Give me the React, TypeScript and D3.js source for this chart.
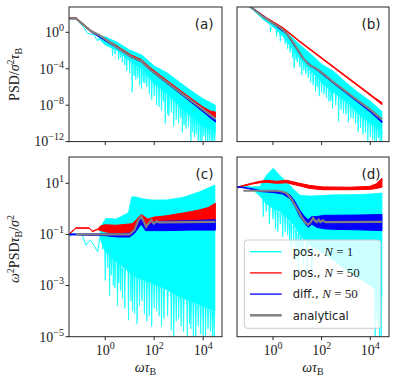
import React from 'react';
import * as d3 from 'd3';

// all values are log10 exponents: [log10(omega*tauB), log10(value)]
// bands are [log10 x, upper, lower], spikes are [log10 x, top, bottom]
type Pt = [number, number];
type Band = [number, number, number];

const X_EXP_RANGE = [-1.48, 4.77];
const X_TICKS = [0, 2, 4];
const TOP_Y_EXP = [-12, 2.78];
const TOP_Y_TICKS = [0, -4, -8, -12];
const BOT_Y_EXP = [-5, 2.03];
const BOT_Y_TICKS = [1, -1, -3, -5];

// ---- panel (a): PSD of positions
const A_GREY: Pt[] = [[-1.45, 1.54], [-1.2, 1.54], [-0.59, 0.14], [-0.25, -0.3], [0.44, -1.58], [1.06, -2.68], [1.26, -2.93], [1.47, -3.15], [1.6, -3.52], [1.81, -4.03], [2.49, -5.43], [3.31, -7.08], [4.0, -8.5], [4.5, -9.5]];
const A_RED: Band[] = [[-1.45, 1.62, 1.56], [-1.2, 1.62, 1.56], [-0.59, 0.24, 0.16], [0.44, -1.42, -1.52], [1.06, -2.5, -2.6], [1.47, -2.98, -3.08], [1.6, -3.3, -3.42], [1.81, -3.82, -3.94], [2.49, -5.22, -5.34], [3.31, -6.86, -7.0], [4.0, -8.2, -8.4], [4.3, -8.65, -9.0], [4.5, -8.75, -9.35]];
const A_BLUE: Band[] = [[-1.45, 1.53, 1.48], [-1.2, 1.53, 1.48], [-0.59, 0.12, 0.06], [0.44, -1.6, -1.66], [1.06, -2.7, -2.76], [1.47, -3.17, -3.25], [1.81, -4.05, -4.12], [2.49, -5.47, -5.56], [3.31, -7.14, -7.26], [4.0, -8.6, -8.75], [4.5, -9.6, -9.85]];
const A_CYAN_LINE: Pt[] = [[-1.45, 1.5], [-1.2, 1.5], [-0.86, 0.5], [-0.72, -0.11], [-0.45, -0.3], [-0.31, -0.96], [-0.25, -0.66], [-0.15, -0.62]];
const A_CYAN: Band[] = [[-0.25, -0.45, -0.7], [0.0, -0.48, -1.4], [0.5, -1.1, -2.0], [1.0, -1.95, -3.1], [1.5, -2.5, -4.0], [2.0, -3.7, -5.6], [2.5, -4.4, -6.7], [3.0, -5.4, -8.0], [3.5, -6.4, -9.2], [4.0, -7.3, -10.3], [4.5, -8.0, -11.0]];
const A_SPIKES: Band[] = [[0.3, -1.3, -2.6], [0.4, -1.5, -2.4], [0.55, -1.8, -3.0], [0.62, -1.9, -2.8], [0.7, -2.0, -3.3], [0.8, -2.3, -3.6], [0.88, -2.6, -4.2], [1.0, -2.9, -4.5], [1.1, -3.1, -6.6], [1.18, -3.3, -4.8], [1.25, -3.5, -5.2], [1.33, -3.6, -5.0], [1.4, -3.8, -5.8], [1.48, -4.0, -6.2], [1.55, -4.2, -5.5], [1.62, -4.4, -5.6], [1.7, -4.6, -6.0], [1.8, -4.9, -6.8], [1.9, -5.2, -7.4], [2.0, -5.5, -7.0], [2.1, -5.8, -8.0], [2.2, -6.0, -8.2], [2.3, -6.2, -8.6], [2.38, -6.4, -7.6], [2.45, -6.6, -10.0], [2.55, -6.8, -9.0], [2.6, -7.0, -9.2], [2.7, -7.2, -8.8], [2.8, -7.5, -10.3], [2.9, -7.7, -9.6], [3.0, -7.9, -10.0], [3.08, -8.1, -9.4], [3.15, -8.3, -11.0], [3.22, -8.5, -10.2], [3.3, -8.7, -10.6], [3.4, -8.9, -10.4], [3.5, -9.1, -12], [3.58, -9.3, -11], [3.65, -9.5, -11.5], [3.72, -9.6, -11.2], [3.8, -9.8, -12], [3.88, -10.0, -12], [3.95, -10.1, -12], [4.03, -10.3, -11.4], [4.1, -10.4, -12], [4.18, -10.5, -12], [4.25, -10.7, -12], [4.33, -10.8, -12], [4.4, -10.9, -12], [4.47, -11.0, -12]];

// ---- panel (b): PSD of differences
const B_GREY: Pt[] = [[-1.25, 3.5], [-0.81, 2.56], [-0.4, 1.7], [0.01, 0.99], [0.3, 0.5], [0.56, -0.11], [0.9, -1.4], [1.24, -2.86], [1.45, -3.5], [1.58, -3.72], [1.7, -3.85], [1.86, -4.14], [2.1, -4.62], [2.47, -5.43], [3.29, -7.08], [4.0, -8.5], [4.48, -9.56]];
const B_RED: Band[] = [[-1.25, 3.45, 3.35], [-1.01, 3.02, 2.92], [-0.26, 1.6, 1.5], [0.42, 0.5, 0.4], [1.11, -0.98, -1.08], [2.47, -3.72, -3.84], [3.84, -6.47, -6.6], [4.2, -7.2, -7.35], [4.48, -7.7, -7.95]];
const B_BLUE: Band[] = [[-1.25, 3.48, 3.42], [0.01, 0.97, 0.9], [0.56, -0.12, -0.2], [1.24, -2.85, -2.95], [1.58, -3.66, -3.76], [1.86, -4.15, -4.25], [2.47, -5.48, -5.58], [3.29, -7.15, -7.27], [4.0, -8.6, -8.75], [4.48, -9.7, -9.92]];
const B_CYAN: Band[] = [[-1.25, 3.45, 3.35], [-0.8, 2.62, 2.4], [-0.4, 1.7, 1.4], [0.0, 1.0, 0.6], [0.4, 0.4, -0.4], [0.8, -0.6, -1.8], [1.2, -1.58, -3.2], [1.6, -2.5, -4.4], [2.0, -3.5, -5.5], [2.5, -4.3, -6.6], [3.0, -5.5, -7.6], [3.5, -6.6, -8.9], [4.0, -7.55, -10.0], [4.48, -8.7, -10.9]];
const B_SPIKES: Band[] = [[-0.1, 0.6, 0.0], [0.15, 0.2, -0.5], [0.3, -0.1, -1.0], [0.5, -0.5, -1.3], [0.6, -0.9, -1.8], [0.7, -1.3, -2.2], [0.8, -1.7, -2.8], [0.87, -2.0, -3.96], [0.95, -2.2, -3.0], [1.0, -2.4, -3.3], [1.1, -2.8, -3.8], [1.18, -3.1, -4.7], [1.27, -3.4, -4.2], [1.35, -3.7, -4.6], [1.45, -4.0, -5.0], [1.55, -4.3, -5.5], [1.65, -4.6, -5.8], [1.75, -4.9, -6.5], [1.82, -5.1, -6.0], [1.9, -5.3, -7.0], [2.0, -5.5, -6.6], [2.1, -5.7, -6.8], [2.2, -5.9, -7.2], [2.3, -6.1, -7.6], [2.38, -6.3, -7.5], [2.45, -6.5, -8.35], [2.58, -6.8, -8.0], [2.7, -7.0, -9.8], [2.8, -7.2, -8.5], [2.9, -7.4, -8.9], [3.0, -7.6, -9.0], [3.1, -7.9, -9.9], [3.2, -8.1, -9.4], [3.3, -8.4, -9.5], [3.4, -8.6, -10], [3.5, -8.9, -10.9], [3.6, -9.1, -10.5], [3.7, -9.3, -11.2], [3.8, -9.5, -11], [3.9, -9.8, -12], [4.0, -10.0, -11.5], [4.1, -10.2, -11.8], [4.18, -10.3, -12], [4.25, -10.5, -12], [4.33, -10.6, -11.6], [4.4, -10.8, -12], [4.47, -10.9, -12]];

// ---- panel (c): omega^2 PSD of positions
const C_GREY: Pt[] = [[-1.2, -1.0], [0.99, -1.0], [1.19, -0.83], [1.35, -0.45], [1.47, -0.31], [1.58, -0.5], [1.67, -0.7], [1.78, -0.55], [1.88, -0.44], [1.98, -0.58], [2.1, -0.48], [2.2, -0.53], [4.5, -0.51]];
const C_RED: Band[] = [[-1.45, -0.96, -0.98], [-1.2, -0.74, -0.76], [-0.66, -0.74, -0.76], [-0.52, -0.87, -0.89], [-0.31, -0.79, -0.81], [-0.18, -0.66, -0.85], [0.0, -0.62, -0.9], [0.44, -0.64, -0.95], [1.1, -0.58, -0.93], [1.3, -0.4, -0.7], [1.47, -0.22, -0.44], [1.6, -0.3, -0.55], [1.74, -0.4, -0.7], [2.0, -0.32, -0.55], [2.49, -0.27, -0.51], [3.31, -0.14, -0.5], [3.8, -0.05, -0.48], [4.2, 0.05, -0.46], [4.5, 0.22, -0.44]];
const C_BLUE: Band[] = [[-1.45, -0.98, -1.02], [-1.2, -0.98, -1.02], [0.0, -0.97, -1.05], [0.5, -0.97, -1.1], [1.0, -0.95, -1.1], [1.2, -0.8, -0.95], [1.47, -0.36, -0.6], [1.65, -0.72, -0.85], [2.0, -0.5, -0.85], [2.5, -0.48, -0.85], [3.5, -0.46, -0.83], [4.5, -0.42, -0.83]];
const C_CYAN_LINE: Pt[] = [[-1.45, -1.09], [-1.35, -0.95], [-1.2, -0.98], [-0.95, -1.0], [-0.79, -1.42], [-0.7, -1.3], [-0.6, -1.22], [-0.45, -1.45], [-0.31, -1.68], [-0.2, -1.0], [-0.1, -0.95]];
const C_CYAN: Band[] = [[-0.2, -0.7, -1.2], [0.03, -0.37, -1.7], [0.44, -0.4, -2.05], [0.95, -0.15, -2.45], [1.08, 0.47, -2.55], [1.26, 0.47, -2.65], [1.5, 0.4, -2.75], [1.9, 0.35, -2.9], [2.49, 0.35, -3.15], [3.18, 0.45, -3.5], [3.86, 0.67, -3.75], [4.48, 0.93, -4.0]];
const C_SPIKES: Band[] = [[-0.1, -1.1, -1.6], [0.0, -1.5, -2.8], [0.1, -1.5, -2.3], [0.18, -1.7, -3.4], [0.25, -1.8, -2.6], [0.33, -1.9, -3.0], [0.4, -2.0, -3.1], [0.5, -2.0, -3.8], [0.55, -2.1, -2.9], [0.62, -2.2, -3.2], [0.7, -2.3, -3.5], [0.8, -2.35, -3.9], [0.95, -2.4, -4.36], [1.05, -2.5, -3.6], [1.12, -2.5, -4.0], [1.2, -2.6, -4.1], [1.3, -2.6, -4.5], [1.4, -2.7, -3.8], [1.5, -2.7, -3.6], [1.6, -2.8, -4.1], [1.7, -2.8, -4.4], [1.8, -2.85, -4.2], [1.9, -2.9, -4.6], [2.0, -2.9, -3.9], [2.1, -2.95, -4.0], [2.2, -3.0, -4.2], [2.3, -3.0, -4.6], [2.4, -3.1, -4.3], [2.55, -3.2, -4.2], [2.7, -3.25, -4.75], [2.8, -3.3, -5], [2.9, -3.35, -4.4], [3.0, -3.4, -4.3], [3.1, -3.45, -4.6], [3.2, -3.5, -4.8], [3.35, -3.55, -5], [3.45, -3.6, -4.5], [3.5, -3.6, -4.7], [3.6, -3.65, -5], [3.7, -3.7, -5], [3.8, -3.75, -4.6], [3.9, -3.75, -4.9], [4.0, -3.8, -5], [4.1, -3.85, -5], [4.2, -3.9, -4.7], [4.3, -3.95, -4.8], [4.38, -4.0, -5], [4.45, -4.0, -5]];

// ---- panel (d): omega^2 PSD of differences
const D_GREY: Pt[] = [[-1.22, 0.71], [0.15, 0.71], [0.4, 0.67], [0.56, 0.61], [0.75, 0.4], [0.9, 0.15], [1.05, -0.1], [1.17, -0.31], [1.3, -0.5], [1.45, -0.62], [1.55, -0.52], [1.65, -0.36], [1.72, -0.45], [1.8, -0.52], [1.88, -0.42], [1.95, -0.52], [2.05, -0.45], [2.15, -0.52], [4.48, -0.51]];
const D_RED: Band[] = [[-1.45, 0.85, 0.82], [-1.22, 0.92, 0.89], [-0.81, 1.02, 0.98], [-0.54, 1.08, 1.02], [-0.26, 1.12, 1.04], [0.15, 1.08, 1.0], [0.56, 1.12, 1.02], [1.1, 1.0, 0.9], [1.5, 0.92, 0.8], [2.05, 0.86, 0.75], [3.15, 0.85, 0.75], [3.97, 0.88, 0.76], [4.25, 0.98, 0.8], [4.48, 1.2, 0.85]];
const D_BLUE: Band[] = [[-1.45, 0.87, 0.85], [-1.2, 0.84, 0.82], [-0.8, 0.78, 0.75], [-0.54, 0.72, 0.68], [0.0, 0.7, 0.64], [0.4, 0.66, 0.58], [0.7, 0.55, 0.4], [0.9, 0.3, 0.1], [1.1, -0.05, -0.3], [1.3, -0.3, -0.55], [1.45, -0.42, -0.72], [1.6, -0.3, -0.6], [1.8, -0.3, -0.72], [2.1, -0.25, -0.78], [2.5, -0.25, -0.8], [3.5, -0.24, -0.82], [4.48, -0.22, -0.85]];
const D_CYAN: Band[] = [[-1.45, 0.87, 0.84], [-1.2, 0.92, 0.86], [-0.9, 0.86, 0.82], [-0.54, 0.87, 0.5], [-0.26, 1.33, 0.2], [0.01, 1.59, 0.0], [0.29, 1.3, -0.1], [0.56, 1.06, -0.35], [0.84, 0.77, -0.6], [1.1, 0.54, -1.0], [1.5, 0.5, -1.4], [2.0, 0.52, -1.7], [2.5, 0.55, -2.0], [3.0, 0.55, -2.4], [3.5, 0.56, -2.7], [4.0, 0.58, -3.0], [4.48, 0.62, -3.4]];
const D_SPIKES: Band[] = [[-0.4, 0.4, -0.3], [-0.28, 0.3, -0.1], [-0.15, 0.1, -0.6], [0.0, 0.0, -0.4], [0.1, -0.05, -0.8], [0.2, -0.1, -0.9], [0.3, -0.15, -0.6], [0.4, -0.2, -1.1], [0.5, -0.3, -0.9], [0.6, -0.4, -1.03], [0.68, -0.5, -1.3], [0.75, -0.55, -1.6], [0.85, -0.65, -1.4], [0.95, -0.8, -2.0], [1.05, -0.95, -2.6], [1.15, -1.05, -1.8], [1.25, -1.15, -2.2], [1.4, -1.3, -2.5], [1.6, -1.45, -2.4], [4.2, -3.1, -5], [4.27, -3.15, -4.3], [4.32, -3.2, -4.6], [4.38, -3.25, -5], [4.45, -3.3, -5]];

const LEGEND = [
  { pre: 'pos., ', n: '1', color: '#00ffff', w: 1.3 },
  { pre: 'pos., ', n: '50', color: '#ff0000', w: 1.3 },
  { pre: 'diff., ', n: '50', color: '#0000ff', w: 1.3 },
  { pre: 'analytical', n: '', color: '#808080', w: 2.5 },
];

const SERIF = '"Liberation Serif", "DejaVu Serif", serif';
const SANS = '"DejaVu Sans", sans-serif';
const COLS: [number, number][] = [[69, 222], [237, 389]];
const ROWS: [number, number][] = [[7, 141.6], [157, 336.7]];

const pw = (e: number) => Math.pow(10, e);
const sup = (e: number) => (e < 0 ? '\u2212' + Math.abs(e) : String(e));

function Panel({ id, col, row, label, grey, red, blue, cyanLine, cyan, spikes }: any) {
  const [x0, x1] = COLS[col];
  const [y0, y1] = ROWS[row];
  const yExp = row === 0 ? TOP_Y_EXP : BOT_Y_EXP;
  const yTicks = row === 0 ? TOP_Y_TICKS : BOT_Y_TICKS;
  const x = d3.scaleLog().domain(X_EXP_RANGE.map(pw)).range([x0, x1]);
  const y = d3.scaleLog().domain(yExp.map(pw)).range([y1, y0]);
  const X = (e: number) => x(pw(e));
  const Y = (e: number) => y(pw(e));
  const line = d3.line<Pt>().x(d => X(d[0])).y(d => Y(d[1]));
  const area = d3.area<Band>().x(d => X(d[0])).y0(d => Y(d[2])).y1(d => Y(d[1]));
  const spikePath = (spikes as Band[])
    .map(s => `M${X(s[0]) - 0.6},${Y(s[1])}L${X(s[0])},${Y(s[2])}L${X(s[0]) + 0.6},${Y(s[1])}`)
    .join('');

  return (
    <g>
      <clipPath id={id}>
        <rect x={x0} y={y0} width={x1 - x0} height={y1 - y0} />
      </clipPath>
      <g clipPath={`url(#${id})`}>
        {cyanLine && <path d={line(cyanLine) || ''} fill="none" stroke="#00ffff" strokeWidth={1} />}
        <path d={area(cyan) || ''} fill="#00ffff" stroke="#00ffff" strokeWidth={0.8} />
        <path d={spikePath} fill="#00ffff" stroke="#00ffff" strokeWidth={0.7} />
        <path d={area(red) || ''} fill="#ff0000" stroke="#ff0000" strokeWidth={1} />
        <path d={area(blue) || ''} fill="#0000ff" stroke="#0000ff" strokeWidth={1} />
        <path d={line(grey) || ''} fill="none" stroke="#808080" strokeWidth={2.2} />
      </g>
      <rect x={x0} y={y0} width={x1 - x0} height={y1 - y0} fill="none" stroke="#262626" strokeWidth={1} />
      {X_TICKS.map(t => (
        <line key={t} x1={X(t)} x2={X(t)} y1={y1} y2={y1 + 3.5} stroke="#262626" strokeWidth={1} />
      ))}
      {row === 1 && X_TICKS.map(t => (
        <text key={'xl' + t} x={X(t)} y={355} textAnchor="middle" fontFamily={SERIF} fontSize={14} fill="#222">
          10<tspan dy={-6} fontSize={10}>{sup(t)}</tspan>
        </text>
      ))}
      {col === 0 && yTicks.map(t => (
        <g key={'y' + t}>
          <line x1={x0 - 3.5} x2={x0} y1={Y(t)} y2={Y(t)} stroke="#262626" strokeWidth={1} />
          <text x={64} y={Y(t) + 4.8} textAnchor="end" fontFamily={SERIF} fontSize={14} fill="#222">
            10<tspan dy={-6} fontSize={10}>{sup(t)}</tspan>
          </text>
        </g>
      ))}
      <text x={x1 - 8.5} y={y0 + 22} textAnchor="end" fontFamily={SANS} fontSize={13.5} fill="#222">{label}</text>
      {row === 1 && (
        <text x={(x0 + x1) / 2} y={372} textAnchor="middle" fontFamily={SERIF} fontSize={14} fill="#222">
          <tspan fontStyle="italic">ωτ</tspan><tspan dy={3} fontSize={10}>B</tspan>
        </text>
      )}
    </g>
  );
}

function Legend() {
  const lx = 244.3, ly = 240, rowH = 21.2;
  return (
    <g>
      <rect x={lx} y={ly} width={136.4} height={88.3} rx={3} fill="#ffffff" fillOpacity={0.8} stroke="#cccccc" strokeWidth={1} />
      {LEGEND.map((d, i) => {
        const cy = ly + 11.7 + i * rowH;
        return (
          <g key={i}>
            <line x1={250} x2={281.7} y1={cy} y2={cy} stroke={d.color} strokeWidth={d.w} />
            <text x={292.7} y={cy + 4.3} fontFamily={SANS} fontSize={11.6} fill="#222">
              {d.pre}
              {d.n && <tspan fontFamily={SERIF} fontStyle="italic" fontSize={13}>N</tspan>}
              {d.n && <tspan fontFamily={SERIF} fontSize={13}>{' = ' + d.n}</tspan>}
            </text>
          </g>
        );
      })}
    </g>
  );
}

export default function App() {
  return (
    <svg width={397} height={383} style={{ position: 'absolute', left: 0, top: 0, background: '#fff' }}>
      <Panel id="ca" col={0} row={0} label="(a)" grey={A_GREY} red={A_RED} blue={A_BLUE} cyanLine={A_CYAN_LINE} cyan={A_CYAN} spikes={A_SPIKES} />
      <Panel id="cb" col={1} row={0} label="(b)" grey={B_GREY} red={B_RED} blue={B_BLUE} cyan={B_CYAN} spikes={B_SPIKES} />
      <Panel id="cc" col={0} row={1} label="(c)" grey={C_GREY} red={C_RED} blue={C_BLUE} cyanLine={C_CYAN_LINE} cyan={C_CYAN} spikes={C_SPIKES} />
      <Panel id="cd" col={1} row={1} label="(d)" grey={D_GREY} red={D_RED} blue={D_BLUE} cyan={D_CYAN} spikes={D_SPIKES} />
      <Legend />
      <text transform="translate(18.5,74.3) rotate(-90)" textAnchor="middle" fontFamily={SERIF} fontSize={14} fill="#222">
        PSD/<tspan fontStyle="italic">σ</tspan><tspan dy={-5} fontSize={10}>2</tspan><tspan dy={5} fontStyle="italic">τ</tspan><tspan dy={3} fontSize={10}>B</tspan>
      </text>
      <text transform="translate(18.5,249) rotate(-90)" textAnchor="middle" fontFamily={SERIF} fontSize={14} fill="#222">
        <tspan fontStyle="italic">ω</tspan><tspan dy={-5} fontSize={10}>2</tspan><tspan dy={5}>PSD</tspan><tspan fontStyle="italic">τ</tspan><tspan dy={3} fontSize={10}>B</tspan><tspan dy={-3}>/</tspan><tspan fontStyle="italic">σ</tspan><tspan dy={-5} fontSize={10}>2</tspan>
      </text>
    </svg>
  );
}
